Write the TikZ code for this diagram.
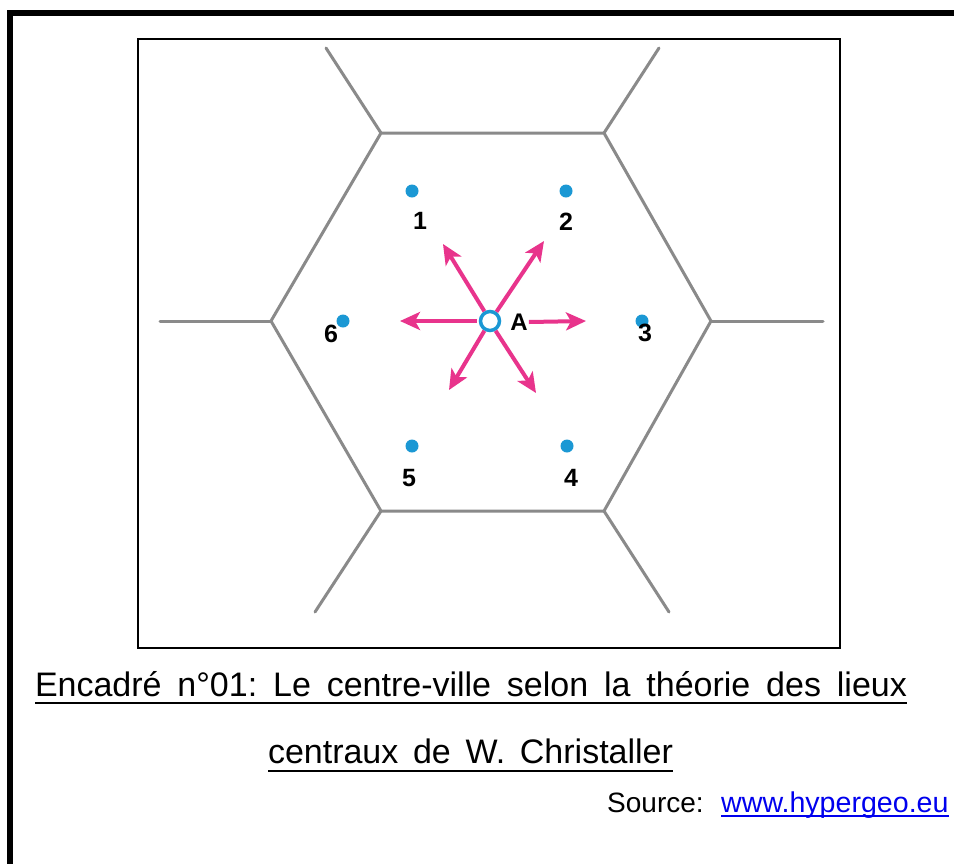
\documentclass[tikz,border=0pt]{standalone}
\usepackage{fontspec}
\setmainfont{Liberation Sans}
\usetikzlibrary{arrows.meta}
\definecolor{hexgray}{RGB}{138,138,138}
\definecolor{dotblue}{RGB}{27,152,212}
\definecolor{arrowpink}{RGB}{232,52,140}
\definecolor{linkblue}{RGB}{0,0,238}
\begin{document}
\frenchspacing
\begin{tikzpicture}[x=1pt,y=-1pt,
  hexline/.style={draw=hexgray,line width=3pt,line cap=round,line join=round},
  place/.style={circle,fill=dotblue,inner sep=0pt,minimum size=13pt},
  numlabel/.style={font=\fontsize{25}{25}\selectfont\bfseries,inner sep=0pt},
  radial/.style={draw=arrowpink,line width=4pt,-{Stealth[length=20pt,width=18pt,inset=5pt]}},
  captext/.style={font=\fontsize{34}{40}\selectfont,inner sep=0pt,anchor=base},
  uline/.style={line width=2pt},
]
\useasboundingbox (0,0) rectangle (954,863);
\fill[white] (0,0) rectangle (954,863);
% outer frame
\draw[line width=6pt] (10,890) -- (10,13) -- (980,13);
% inner box
\draw[line width=2.5pt] (138,39) rectangle (840,648);
% hexagon vertices
\coordinate (h1) at (381,133);
\coordinate (h2) at (604,133);
\coordinate (h3) at (711,321);
\coordinate (h4) at (604,511);
\coordinate (h5) at (381,511);
\coordinate (h6) at (271,321);
\coordinate (o1) at (326,48);
\coordinate (o2) at (659,48);
\coordinate (o3) at (823,321);
\coordinate (o4) at (669,612);
\coordinate (o5) at (315,612);
\coordinate (o6) at (160,321);
\draw[hexline] (h1) -- (h2) -- (h3) -- (h4) -- (h5) -- (h6) -- cycle;
\draw[hexline] (h1) -- (o1);
\draw[hexline] (h2) -- (o2);
\draw[hexline] (h3) -- (o3);
\draw[hexline] (h4) -- (o4);
\draw[hexline] (h5) -- (o5);
\draw[hexline] (h6) -- (o6);
% places
\node[place] (p1) at (412,191) {};
\node[place] (p2) at (566,191) {};
\node[place] (p3) at (642,321) {};
\node[place] (p4) at (567,446) {};
\node[place] (p5) at (412,446) {};
\node[place] (p6) at (343,321) {};
\node[numlabel] (l1) at (420,221) {1};
\node[numlabel] (l2) at (566,222) {2};
\node[numlabel] (l3) at (645,333) {3};
\node[numlabel] (l4) at (571,478) {4};
\node[numlabel] (l5) at (409,478) {5};
\node[numlabel] (l6) at (331,334) {6};
% centre A
\node[circle,draw=dotblue,line width=3.5pt,fill=white,inner sep=0pt,minimum size=19pt] (A) at (490,321) {};
\node[font=\fontsize{24}{24}\selectfont\bfseries,inner sep=0pt] (lA) at (519,322) {A};
\coordinate (t1) at (400,321);
\coordinate (t2) at (586,321);
\coordinate (t3) at (443,244);
\coordinate (t4) at (544,241);
\coordinate (t5) at (449,390);
\coordinate (t6) at (536,393);
\draw[radial] (A.west) ++(-2,0) -- (t1);
\draw[radial] (lA.east) ++(1,0) -- (t2);
\draw[radial] (A.120) -- (t3);
\draw[radial] (A.55) -- (t4);
\draw[radial] (A.240) -- (t5);
\draw[radial] (A.300) -- (t6);
% caption
\node[captext] (c1) at (471,696) {\makebox[872pt][s]{Encadré n°01: Le centre-ville selon la théorie des lieux}};
\draw[uline] (35,703) -- (907,703);
\node[captext] (c2) at (470.5,763) {\makebox[405pt][s]{centraux de W. Christaller}};
\draw[uline] (268,771) -- (673,771);
\node[font=\fontsize{28}{30}\selectfont,inner sep=0pt,anchor=base west] (src) at (607,812) {Source:};
\node[font=\fontsize{28.6}{30}\selectfont,text=linkblue,inner sep=0pt,anchor=base west] (link) at (721,812) {www.hypergeo.eu};
\draw[linkblue,line width=1.5pt] (link.base west) ++(0,4) -- (link.base east |- 0,816);
\end{tikzpicture}
\end{document}
